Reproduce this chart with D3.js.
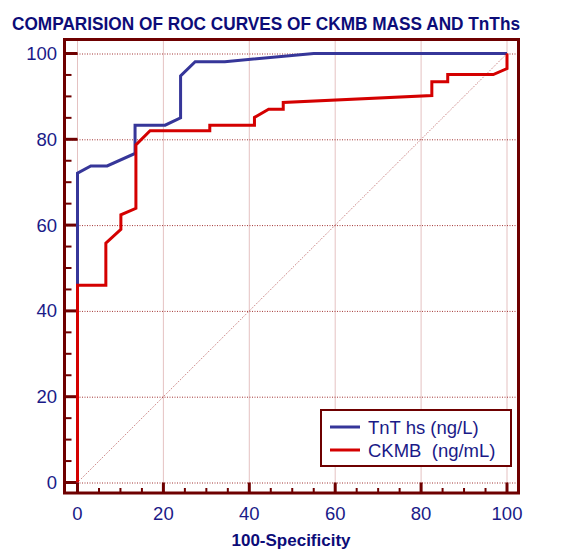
<!DOCTYPE html>
<html>
<head>
<meta charset="utf-8">
<script src="https://cdn.jsdelivr.net/npm/d3@7"></script>
<style>
  body { margin: 0; background: #fff; }
  text { font-family: "Liberation Sans", Arial, sans-serif; }
</style>
</head>
<body>
<div id="G"></div>
<script>
// ROC curves (x = 100-Specificity, y = Sensitivity)
var tntX = [0, 0, 3.1, 6.9, 13.4, 13.4, 20.4, 24, 24, 27.4, 34.3, 55, 100];
var tntY = [0, 72.1, 73.8, 73.8, 76.7, 83.3, 83.3, 85, 94.8, 98.1, 98.1, 100, 100];

var ckmbX = [0, 0, 6.6, 6.6, 10.1, 10.1, 13.6, 13.6, 16.9, 30.8, 30.8, 41.2, 41.2, 44.5, 47.9, 47.9, 82.5, 82.5, 86.2, 86.2, 96.8, 100, 100];
var ckmbY = [0, 46, 46, 55.8, 59, 62.4, 63.9, 78.7, 82, 82, 83.3, 83.3, 85.1, 87, 87, 88.6, 90.2, 93.4, 93.4, 95.1, 95.1, 96.5, 100];

var seriesNames = ["TnT hs (ng/L)", "CKMB\u00a0 (ng/mL)"];
var seriesColors = ["#363699", "#d40000"];
var majorTicks = [0, 20, 40, 60, 80, 100];
var minorTicks = d3.range(0, 101, 5).filter(function (v) { return v % 20 != 0; });

var chartTitle = "COMPARISION OF ROC CURVES OF CKMB MASS AND TnThs";
var xTitle = "100-Specificity";

var W = 572, H = 550;
var frame = { left: 64.5, top: 39.5, right: 518.5, bottom: 493 };
var axisRed = "#6e0000";
var navy = "#1a1a88";

var svg = d3.select("#G").append("svg")
  .attr("width", W)
  .attr("height", H);

var x = d3.scaleLinear().domain([0, 100]).range([77.5, 507]);
var y = d3.scaleLinear().domain([0, 100]).range([482.5, 53.5]);

// grid (dotted)
svg.append("g").selectAll("line.gx")
  .data(majorTicks).enter().append("line")
  .attr("x1", function (d) { return x(d); })
  .attr("x2", function (d) { return x(d); })
  .attr("y1", frame.top)
  .attr("y2", frame.bottom)
  .attr("stroke", "#a02020")
  .attr("stroke-opacity", 0.55)
  .attr("stroke-width", 1)
  .attr("stroke-dasharray", "1,1");

svg.append("g").selectAll("line.gy")
  .data(majorTicks).enter().append("line")
  .attr("x1", frame.left)
  .attr("x2", frame.right)
  .attr("y1", function (d) { return y(d) + 0.5; })
  .attr("y2", function (d) { return y(d) + 0.5; })
  .attr("stroke", "#8b0000")
  .attr("stroke-opacity", 0.8)
  .attr("stroke-width", 1)
  .attr("stroke-dasharray", "1,1.5");

// diagonal reference
svg.append("line")
  .attr("x1", x(0)).attr("y1", y(0))
  .attr("x2", x(100)).attr("y2", y(100))
  .attr("stroke", "#a02020")
  .attr("stroke-opacity", 0.7)
  .attr("stroke-width", 1)
  .attr("stroke-dasharray", "1,1.5");

// ticks
var tk = svg.append("g").attr("stroke", axisRed);
tk.selectAll("line.my").data(majorTicks).enter().append("line")
  .attr("x1", frame.left).attr("x2", x(0))
  .attr("y1", function (d) { return y(d); }).attr("y2", function (d) { return y(d); })
  .attr("stroke-width", 3);
tk.selectAll("line.ny").data(minorTicks).enter().append("line")
  .attr("x1", frame.left).attr("x2", frame.left + 7)
  .attr("y1", function (d) { return y(d); }).attr("y2", function (d) { return y(d); })
  .attr("stroke-width", 2);
tk.selectAll("line.mx").data(majorTicks).enter().append("line")
  .attr("y1", frame.bottom).attr("y2", y(0))
  .attr("x1", function (d) { return x(d); }).attr("x2", function (d) { return x(d); })
  .attr("stroke-width", 3);
tk.selectAll("line.nx").data(minorTicks).enter().append("line")
  .attr("y1", frame.bottom).attr("y2", frame.bottom - 5)
  .attr("x1", function (d) { return x(d); }).attr("x2", function (d) { return x(d); })
  .attr("stroke-width", 2);

// frame
svg.append("rect")
  .attr("x", frame.left)
  .attr("y", frame.top)
  .attr("width", frame.right - frame.left)
  .attr("height", frame.bottom - frame.top)
  .attr("fill", "none")
  .attr("stroke", axisRed)
  .attr("stroke-width", 3);

// tick labels
svg.append("g").selectAll("text")
  .data(majorTicks).enter().append("text")
  .attr("x", 57)
  .attr("y", function (d) { return y(d) + 6.5; })
  .attr("text-anchor", "end")
  .attr("font-size", 18.5)
  .attr("fill", navy)
  .text(function (d) { return d; });

svg.append("g").selectAll("text")
  .data(majorTicks).enter().append("text")
  .attr("x", function (d) { return x(d); })
  .attr("y", 520)
  .attr("text-anchor", "middle")
  .attr("font-size", 18.5)
  .attr("fill", navy)
  .text(function (d) { return d; });

// curves
var line = d3.line()
  .x(function (d) { return x(d[0]); })
  .y(function (d) { return y(d[1]); });

var curves = [d3.zip(tntX, tntY), d3.zip(ckmbX, ckmbY)];
curves.forEach(function (pts, i) {
  svg.append("path")
    .datum(pts)
    .attr("fill", "none")
    .attr("stroke", seriesColors[i])
    .attr("stroke-width", 3)
    .attr("stroke-linejoin", "miter")
    .attr("d", line);
});

// legend
var lg = svg.append("g");
lg.append("rect")
  .attr("x", 321).attr("y", 410)
  .attr("width", 190).attr("height", 56)
  .attr("fill", "#fff")
  .attr("stroke", axisRed)
  .attr("stroke-width", 2);
seriesNames.forEach(function (name, i) {
  var ly = 427 + i * 23;
  lg.append("line")
    .attr("x1", 330).attr("x2", 360)
    .attr("y1", ly).attr("y2", ly)
    .attr("stroke", seriesColors[i])
    .attr("stroke-width", 3);
  lg.append("text")
    .attr("x", 368).attr("y", ly + 6.5)
    .attr("font-size", 18.5)
    .attr("fill", navy)
    .text(name);
});

// titles
svg.append("text")
  .attr("x", 12).attr("y", 30)
  .attr("font-size", 19)
  .attr("font-weight", "bold")
  .attr("fill", "#0c0c78")
  .attr("textLength", 508)
  .attr("lengthAdjust", "spacingAndGlyphs")
  .text(chartTitle);

svg.append("text")
  .attr("x", 291).attr("y", 545.5)
  .attr("text-anchor", "middle")
  .attr("font-size", 17)
  .attr("font-weight", "bold")
  .attr("fill", "#0c0c78")
  .text(xTitle);
</script>
</body>
</html>
